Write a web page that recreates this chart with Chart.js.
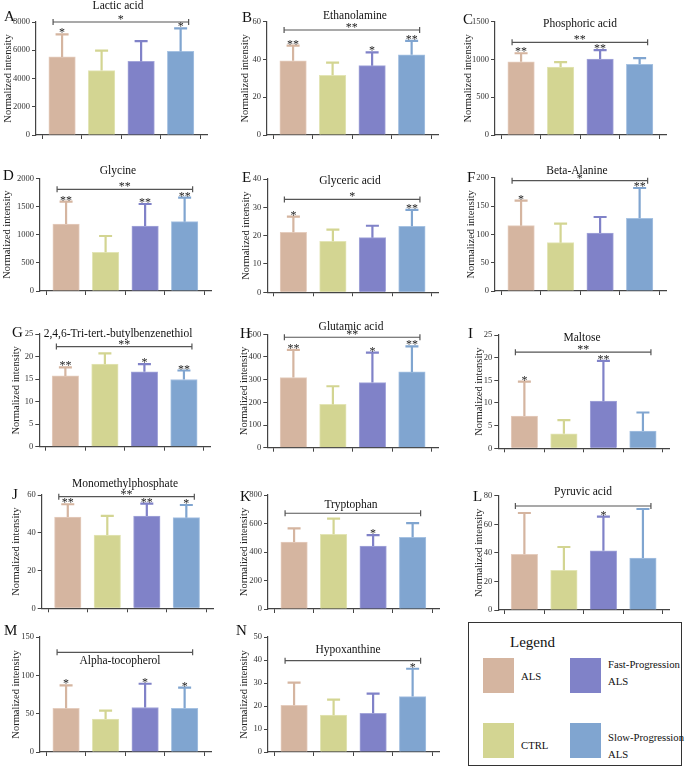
<!DOCTYPE html>
<html><head><meta charset="utf-8">
<script src="https://cdn.jsdelivr.net/npm/chart.js@4.4.1/dist/chart.umd.min.js"></script>
<style>
body{margin:0;background:#fff;width:685px;height:771px;overflow:hidden;position:relative;font-family:"Liberation Serif","Times New Roman",serif;}
canvas{position:absolute;}
#legend{position:absolute;left:468px;top:622px;width:214px;height:144px;border:1px solid #333;box-sizing:border-box;color:#111;}
#legend .lt{position:absolute;left:41px;top:11px;font-size:15px;}
#legend .sw{position:absolute;width:31px;height:35px;}
#legend .lb{position:absolute;font-size:10.7px;line-height:17px;white-space:nowrap;}
</style></head><body>
<div id="legend">
  <div class="lt">Legend</div>
  <div class="sw" id="sw0" style="left:14px;top:35px"></div>
  <div class="lb" style="left:52px;top:45px">ALS</div>
  <div class="sw" id="sw2" style="left:101px;top:35px"></div>
  <div class="lb" style="left:139px;top:33px">Fast-Progression<br>ALS</div>
  <div class="sw" id="sw1" style="left:14px;top:100px"></div>
  <div class="lb" style="left:52px;top:114px">CTRL</div>
  <div class="sw" id="sw3" style="left:101px;top:100px"></div>
  <div class="lb" style="left:139px;top:106px">Slow-Progression<br>ALS</div>
</div>
<script>
// ---------- data ----------
const groups = ['ALS', 'CTRL', 'Fast-Progression ALS', 'Slow-Progression ALS'];

const lacticAcidMean = [5530, 4560, 5210, 5920];
const lacticAcidSD   = [1600, 1410, 1440, 1630];
const lacticAcidStars = ['*', '', '', '*'];

const ethanolamineMean = [39.3, 31.6, 36.7, 42.5];
const ethanolamineSD   = [8.0, 6.7, 7.1, 7.3];
const ethanolamineStars = ['**', '', '*', '**'];

const phosphoricAcidMean = [970, 900, 1006, 936];
const phosphoricAcidSD   = [112, 66, 119, 83];
const phosphoricAcidStars = ['**', '', '**', ''];

const glycineMean = [1189, 687, 1154, 1230];
const glycineSD   = [396, 289, 390, 426];
const glycineStars = ['**', '', '**', '**'];

const glycericAcidMean = [21.2, 18.0, 19.3, 23.3];
const glycericAcidSD   = [5.5, 4.1, 4.2, 5.8];
const glycericAcidStars = ['*', '', '', '**'];

const betaAlanineMean = [115.3, 85.3, 102.4, 128.3];
const betaAlanineSD   = [44.1, 33.5, 28.2, 53.5];
const betaAlanineStars = ['*', '', '', '**'];

const tributylbenzenethiolMean = [15.7, 18.3, 16.6, 14.9];
const tributylbenzenethiolSD   = [1.9, 2.4, 1.7, 2.0];
const tributylbenzenethiolStars = ['**', '', '*', '**'];

const glutamicAcidMean = [309, 191, 287, 334];
const glutamicAcidSD   = [122, 80, 132, 113];
const glutamicAcidStars = ['**', '', '*', '**'];

const maltoseMean = [7.1, 3.2, 10.4, 3.8];
const maltoseSD   = [7.6, 3.0, 8.9, 4.1];
const maltoseStars = ['*', '', '**', ''];

const monomethylphosphateMean = [48.3, 38.8, 48.9, 48.0];
const monomethylphosphateSD   = [6.8, 10.1, 6.5, 6.7];
const monomethylphosphateStars = ['**', '', '**', '*'];

const tryptophanMean = [470, 524, 442, 503];
const tryptophanSD   = [96, 110, 77, 100];
const tryptophanStars = ['', '', '*', ''];

const pyruvicAcidMean = [39.0, 27.8, 41.5, 36.4];
const pyruvicAcidSD   = [28.9, 16.3, 23.8, 34.3];
const pyruvicAcidStars = ['', '', '*', ''];

const alphaTocopherolMean = [57, 43, 58, 57];
const alphaTocopherolSD   = [30, 11, 31, 27];
const alphaTocopherolStars = ['*', '', '*', '*'];

const hypoxanthineMean = [20.3, 16.0, 16.8, 24.1];
const hypoxanthineSD   = [9.9, 6.8, 8.6, 12.1];
const hypoxanthineStars = ['', '', '', '*'];

// bracket level and overall significance per panel
const bracketLevels = [8000, 55.6, 1227, 1805, 32.8, 194.7, 22.2, 487, 21.2, 59.1, 672, 72.8, 130, 39.7];
const bracketStars  = ['*', '**', '**', '**', '*', '*', '**', '**', '**', '**', '', '', '', ''];
// y axis ranges
const axisMax  = [8000, 60, 1500, 2000, 40, 200, 25, 500, 25, 60, 800, 80, 150, 50];
const axisStep = [2000, 20, 500, 500, 10, 50, 5, 100, 5, 20, 200, 20, 50, 10];

// ---------- styling ----------
const barColors = ['#D5B5A0', '#D3D592', '#8082C8', '#80A5D0'];
const barEdges  = ['#E5CDBE', '#E3E5B6', '#A4A6DA', '#A6C2E2'];
['sw0','sw1','sw2','sw3'].forEach((id,i)=>document.getElementById(id).style.background=barColors[i]);
const FONT = '"Liberation Serif", "Times New Roman", serif';

const panels = [
 {L:'A', title:'Lactic acid', mean:lacticAcidMean, sd:lacticAcidSD, stars:lacticAcidStars, col:0,row:0, ax:36, top:22, bot:135, yt:8.3, tx:118, ty:6, lx:4, ly:21},
 {L:'B', title:'Ethanolamine', mean:ethanolamineMean, sd:ethanolamineSD, stars:ethanolamineStars, col:1,row:0, ax:39, top:21.7, bot:135, yt:17.3, tx:127, ty:16, lx:14, ly:22},
 {L:'C', title:'Phosphoric acid', mean:phosphoricAcidMean, sd:phosphoricAcidSD, stars:phosphoricAcidStars, col:2,row:0, ax:40, top:21.7, bot:135, yt:13.3, tx:125, ty:24, lx:8, ly:24},
 {L:'D', title:'Glycine', mean:glycineMean, sd:glycineSD, stars:glycineStars, col:0,row:1, ax:40, top:23.3, bot:136, yt:7.3, tx:118, ty:16, lx:3, ly:25},
 {L:'E', title:'Glyceric acid', mean:glycericAcidMean, sd:glycericAcidSD, stars:glycericAcidStars, col:1,row:1, ax:39.3, top:24, bot:137.3, yt:18.3, tx:122, ty:26, lx:14, ly:27},
 {L:'F', title:'Beta-Alanine', mean:betaAlanineMean, sd:betaAlanineSD, stars:betaAlanineStars, col:2,row:1, ax:40, top:22.7, bot:136, yt:16.7, tx:122, ty:16, lx:12, ly:27},
 {L:'G', title:'2,4,6-Tri-tert.-butylbenzenethiol', mean:tributylbenzenethiolMean, sd:tributylbenzenethiolSD, stars:tributylbenzenethiolStars, col:0,row:2, ax:39.3, top:24, bot:136.7, yt:16.7, tx:118, ty:24, lx:12, ly:27},
 {L:'H', title:'Glutamic acid', mean:glutamicAcidMean, sd:glutamicAcidSD, stars:glutamicAcidStars, col:1,row:2, ax:39.3, top:24.3, bot:137.7, yt:16.7, tx:123, ty:17, lx:12, ly:28},
 {L:'I', title:'Maltose', mean:maltoseMean, sd:maltoseSD, stars:maltoseStars, col:2,row:2, ax:43.3, top:25, bot:138.3, yt:24, tx:127, ty:28, lx:13, ly:28},
 {L:'J', title:'Monomethylphosphate', mean:monomethylphosphateMean, sd:monomethylphosphateSD, stars:monomethylphosphateStars, col:0,row:3, ax:41.7, top:30, bot:143.3, yt:16.7, tx:125, ty:19, lx:12, ly:34},
 {L:'K', title:'Tryptophan', mean:tryptophanMean, sd:tryptophanSD, stars:tryptophanStars, col:1,row:3, ax:40, top:30, bot:144, yt:16.7, tx:123, ty:40, lx:12, ly:36},
 {L:'L', title:'Pyruvic acid', mean:pyruvicAcidMean, sd:pyruvicAcidSD, stars:pyruvicAcidStars, col:2,row:3, ax:43.3, top:30.7, bot:145, yt:24, tx:128, ty:27, lx:18, ly:36},
 {L:'M', title:'Alpha-tocopherol', mean:alphaTocopherolMean, sd:alphaTocopherolSD, stars:alphaTocopherolStars, col:0,row:4, ax:40, top:17, bot:132, yt:16, tx:120, ty:41, lx:4, ly:15},
 {L:'N', title:'Hypoxanthine', mean:hypoxanthineMean, sd:hypoxanthineSD, stars:hypoxanthineStars, col:1,row:4, ax:40, top:17, bot:132, yt:16, tx:120, ty:30, lx:8, ly:15}
];

const colX = [0, 228, 455], rowY = [0, 155, 310, 465, 620];
const CW = 230;
const XMIN = -0.66, XMAX = 3.68, AXW = 171.5;

panels.forEach((p, k) => {
  const CH = p.row === 4 ? 151 : 155;
  const cv = document.createElement('canvas');
  cv.width = CW; cv.height = CH;
  cv.style.left = colX[p.col] + 'px'; cv.style.top = rowY[p.row] + 'px';
  cv.style.width = CW + 'px'; cv.style.height = CH + 'px';
  document.body.appendChild(cv);
  const titleLH = 10.5 * 1.2;
  const padL = p.yt - titleLH / 2;
  const yW = p.ax - padL;
  const xH = 8;
  const padB = CH - p.bot - xH;
  const padR = CW - (p.ax + AXW);

  const annot = {
    id: 'annot' + k,
    afterDatasetsDraw(chart) {
      const {ctx, scales: {x, y}} = chart;
      ctx.save();
      // error bars
      p.mean.forEach((m, i) => {
        const cx = x.getPixelForValue(i);
        const y0 = y.getPixelForValue(m), y1 = y.getPixelForValue(m + p.sd[i]);
        ctx.strokeStyle = barColors[i]; ctx.lineWidth = 2.2; ctx.lineCap = 'butt';
        ctx.beginPath(); ctx.moveTo(cx, y0); ctx.lineTo(cx, y1);
        ctx.moveTo(cx - 6.5, y1); ctx.lineTo(cx + 6.5, y1); ctx.stroke();
        if (p.stars[i]) {
          ctx.fillStyle = '#222'; ctx.font = '12px ' + FONT;
          ctx.textAlign = 'center'; ctx.textBaseline = 'alphabetic';
          ctx.fillText(p.stars[i], cx, y1 + 2);
        }
      });
      // bracket
      const by = y.getPixelForValue(bracketLevels[k]);
      const bx0 = x.getPixelForValue(0) - 9, bx1 = x.getPixelForValue(3) + 8;
      ctx.strokeStyle = '#555'; ctx.lineWidth = 1.2;
      ctx.beginPath();
      ctx.moveTo(bx0, by); ctx.lineTo(bx1, by);
      ctx.moveTo(bx0, by - 3); ctx.lineTo(bx0, by + 3);
      ctx.moveTo(bx1, by - 3); ctx.lineTo(bx1, by + 3);
      ctx.stroke();
      if (bracketStars[k]) {
        ctx.fillStyle = '#222'; ctx.font = '12px ' + FONT;
        ctx.textAlign = 'center'; ctx.textBaseline = 'alphabetic';
        ctx.fillText(bracketStars[k], (bx0 + bx1) / 2, by + 1);
      }
      ctx.restore();
    },
    afterDraw(chart) {
      const ctx = chart.ctx;
      ctx.save();
      ctx.fillStyle = '#111';
      ctx.font = '11.5px ' + FONT; ctx.textAlign = 'center'; ctx.textBaseline = 'middle';
      ctx.fillText(p.title, p.tx, p.ty);
      ctx.font = '15px ' + FONT; ctx.textAlign = 'left'; ctx.textBaseline = 'alphabetic';
      ctx.fillText(p.L, p.lx, p.ly);
      ctx.restore();
    }
  };

  new Chart(cv, {
    type: 'bar',
    data: {
      datasets: [{
        data: p.mean.map((v, i) => ({x: i, y: v})),
        backgroundColor: barColors,
        borderColor: barEdges,
        borderWidth: 1,
        barThickness: 26.5
      }]
    },
    options: {
      responsive: false, animation: false, devicePixelRatio: 1,
      layout: {padding: {left: padL, top: p.top, right: padR, bottom: padB}},
      plugins: {legend: {display: false}, tooltip: {enabled: false}},
      scales: {
        x: {
          type: 'linear', min: XMIN, max: XMAX, offset: false,
          afterBuildTicks: s => { s.ticks = [0, 1, 2, 3].map(v => ({value: v})); },
          afterFit: s => { s.height = xH; },
          ticks: {callback: () => '', padding: 0},
          grid: {drawOnChartArea: false, drawTicks: true, tickLength: 4, color: '#444', lineWidth: 1},
          border: {display: true, color: '#444', width: 1.2}
        },
        y: {
          min: 0, max: axisMax[k],
          afterFit: s => { s.width = yW; },
          ticks: {stepSize: axisStep[k], color: '#333', padding: 2, font: {family: FONT, size: 8.5}, callback: v => String(v)},
          grid: {drawOnChartArea: false, drawTicks: true, tickLength: 4, color: '#444', lineWidth: 1},
          border: {display: true, color: '#444', width: 1.2},
          title: {display: true, text: 'Normalized intensity', color: '#222', padding: 0, font: {family: FONT, size: 10.5}}
        }
      }
    },
    plugins: [annot]
  });
});
</script>
</body></html>
